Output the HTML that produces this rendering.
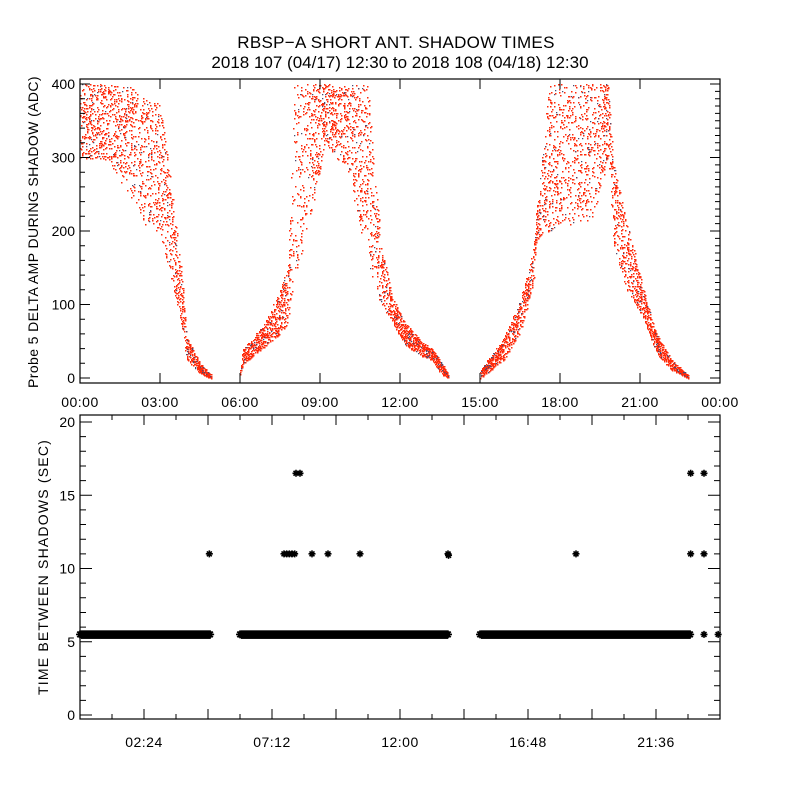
<!DOCTYPE html>
<html><head><meta charset="utf-8"><style>
body{margin:0;background:#fff}
svg{display:block;font-family:"Liberation Sans",sans-serif}
</style></head><body>
<svg id="c" width="800" height="800" viewBox="0 0 800 800">
<rect width="800" height="800" fill="#fff"/>
<text x="396" y="48" font-size="17" text-anchor="middle" letter-spacing="0.3">RBSP−A SHORT ANT. SHADOW TIMES</text>
<text x="400" y="68" font-size="17" text-anchor="middle">2018 107 (04/17) 12:30 to 2018 108 (04/18) 12:30</text>
<g id="topPanel"></g>
<g id="botPanel"></g>
</svg>
<script>
// ---- top panel data: envelope (hours, low ADC, high ADC) per shadow segment ----
const seg1Hours=[0,1,2,2.5,3,3.5,3.8,4.0,4.5,4.9];
const seg1Low=[300,297,242,205,197,120,75,25,7,0];
const seg1High=[400,400,396,378,374,242,143,56,20,5];
const seg2Hours=[6.0,6.1,6.5,7.0,7.5,7.8,8.0,8.3,8.7,9.2,9.6,10.0,10.4,10.8,11.0,11.3,11.7,12.2,12.8,13.2,13.5,13.8];
const seg2Low=[0,20,30,45,60,70,130,170,230,320,300,290,220,160,130,100,75,45,30,25,8,0];
const seg2High=[10,40,55,80,120,160,400,400,400,400,400,400,400,400,300,180,110,75,50,40,25,5];
const seg3Hours=[15.0,15.9,16.5,17.0,17.1,17.6,18.4,19.2,19.8,20.0,20.5,21.1,21.6,22.2,22.8];
const seg3Low=[0,25,61,129,188,201,210,215,300,178,120,83,34,11,0];
const seg3High=[10,56,106,174,220,400,400,400,400,292,215,124,61,24,4];
const topTicks=["00:00","03:00","06:00","09:00","12:00","15:00","18:00","21:00","00:00"];
const topYTicks=[0,100,200,300,400];
// ---- bottom panel data ----
const bandStart=[0,6.0,15.0];
const bandEnd=[4.9,13.8,22.9];
const bandValue=5.5;
const outHours=[4.85,7.65,7.75,7.85,7.95,8.1,8.25,8.05,8.7,9.3,10.5,13.8,13.82,18.6,22.9,22.9,23.4,23.4,23.4,23.93];
const outValues=[11,11,11,11,11,16.5,16.5,11,11,11,11,11,10.9,11,16.5,11,16.5,11,5.5,5.5];
const botTicks=["02:24","07:12","12:00","16:48","21:36"];
const botYTicks=[0,5,10,15,20];

const NS="http://www.w3.org/2000/svg";
function mk(tag,at,parent){const e=document.createElementNS(NS,tag);for(const k in at)e.setAttribute(k,at[k]);parent.appendChild(e);return e;}
const X0=80,X1=720;
const xs=h=>X0+(X1-X0)*h/24;
const T_Y0=378,T_Y1=84;
const ty=v=>T_Y0+(T_Y1-T_Y0)*v/400;
const B_Y0=715,B_Y1=422;
const by=v=>B_Y0+(B_Y1-B_Y0)*v/20;

const topG=document.getElementById('topPanel');
const botG=document.getElementById('botPanel');

function hsh(i,s){let x=Math.sin(i*12.9898+s*78.233)*43758.5453;return x-Math.floor(x);}
function interp(hs,arr,h){for(let i=0;i<hs.length-1;i++){if(h>=hs[i]&&h<=hs[i+1]){const t=(h-hs[i])/(hs[i+1]-hs[i]);return arr[i]+t*(arr[i+1]-arr[i]);}}return null;}
const dots=mk('g',{},topG);


function drawSeg(hs,lo,hi,seed){
  const a=hs[0],b=hs[hs.length-1];
  const N=Math.round((b-a)*320);
  let d='',db='';
  for(let i=0;i<N;i++){
    const h=a+(b-a)*hsh(i,seed);
    const l=interp(hs,lo,h),u=interp(hs,hi,h);
    if(l===null)continue;
    const r=hsh(i,seed+7);
    const v=l+(u-l)*r;
    const px=Math.round(xs(h)),py=Math.round(ty(Math.min(v,400)));
    if(hsh(i,seed+3)<0.06) db+=`M${px} ${py}h1.3v1.3h-1.3z`; else d+=`M${px} ${py}h1.5v1.5h-1.5z`;
  }
  mk('path',{d:d,fill:'#ff2a0a'},dots);
  mk('path',{d:db,fill:'#4a4a70'},dots);
}
drawSeg(seg1Hours,seg1Low,seg1High,1);
drawSeg(seg2Hours,seg2Low,seg2High,2);
drawSeg(seg3Hours,seg3Low,seg3High,3);

const tf=mk('rect',{x:X0,y:79,width:X1-X0,height:304,fill:'none',stroke:'#000','stroke-width':1.2},topG);


let tk='';
topTicks.forEach((s,i)=>{const x=xs(i*3);tk+=`M${x} 383v-10M${x} 79v10`;
  const t=mk('text',{x:x,y:407,'font-size':14,'text-anchor':'middle','letter-spacing':0.5},topG);t.textContent=s;
  
  });
for(let v=0;v<=400;v+=20){const y=ty(v);const L=(v%100===0)?10:5;tk+=`M${X0} ${y}h${L}`;}
for(let v=0;v<=400;v+=10){const y=ty(v);const L=(v%100===0)?10:5;tk+=`M${X1} ${y}h${-L}`;}
topYTicks.forEach(v=>{const t=mk('text',{x:75,y:ty(v)+5,'font-size':14,'text-anchor':'end'},topG);t.textContent=v;
  
  });
mk('path',{d:tk,stroke:'#000','stroke-width':1,fill:'none'},topG);
const ttl=mk('text',{x:0,y:0,'font-size':14,'text-anchor':'middle','letter-spacing':0.4,transform:'translate(38,232) rotate(-90)'},topG);
ttl.textContent='Probe 5 DELTA AMP DURING SHADOW (ADC)';



const stars=mk('g',{},botG);


function star(x,y,s){return `M${x-s} ${y}h${2*s}M${x} ${y-s}v${2*s}M${x-s*0.7} ${y-s*0.7}l${1.4*s} ${1.4*s}M${x-s*0.7} ${y+s*0.7}l${1.4*s} ${-1.4*s}`;}
let sd='';
for(let k=0;k<bandStart.length;k++){for(let h=bandStart[k];h<=bandEnd[k]+1e-6;h+=0.04){sd+=star(xs(h),by(bandValue),4);}}
outHours.forEach((h,i)=>{sd+=star(xs(h),by(outValues[i]),3.5);});
mk('path',{d:sd,stroke:'#000','stroke-width':1.6,fill:'none'},stars);
for(let k=0;k<bandStart.length;k++){
  mk('rect',{x:xs(bandStart[k])+1,y:by(bandValue)-4,width:xs(bandEnd[k])-xs(bandStart[k])-1,height:8.5,fill:'#000'},stars);
}

const bf=mk('rect',{x:X0,y:415,width:X1-X0,height:304,fill:'none',stroke:'#000','stroke-width':1.2},botG);


let bk='';
for(let i=0;i<=20;i++){const h=i*1.2,x=xs(h);const L=(i%2===0&&i>0&&i<20)?10:5;bk+=`M${x} 719v${-L}M${x} 415v${L}`;}
botTicks.forEach((s,i)=>{const t=mk('text',{x:xs(2.4+i*4.8),y:747,'font-size':14,'text-anchor':'middle','letter-spacing':0.5},botG);t.textContent=s;
  
  });
for(let v=0;v<=20;v++){const y=by(v);const L=(v%5===0)?12:6;bk+=`M${X0} ${y}h${L}M${X1} ${y}h${-L}`;}
botYTicks.forEach(v=>{const t=mk('text',{x:75,y:by(v)+5,'font-size':14,'text-anchor':'end'},botG);t.textContent=v;
  
  });
mk('path',{d:bk,stroke:'#000','stroke-width':1,fill:'none'},botG);
const btl=mk('text',{x:0,y:0,'font-size':14,'text-anchor':'middle','letter-spacing':1.2,transform:'translate(48,567) rotate(-90)'},botG);
btl.textContent='TIME BETWEEN SHADOWS (SEC)';


</script>
</body></html>
